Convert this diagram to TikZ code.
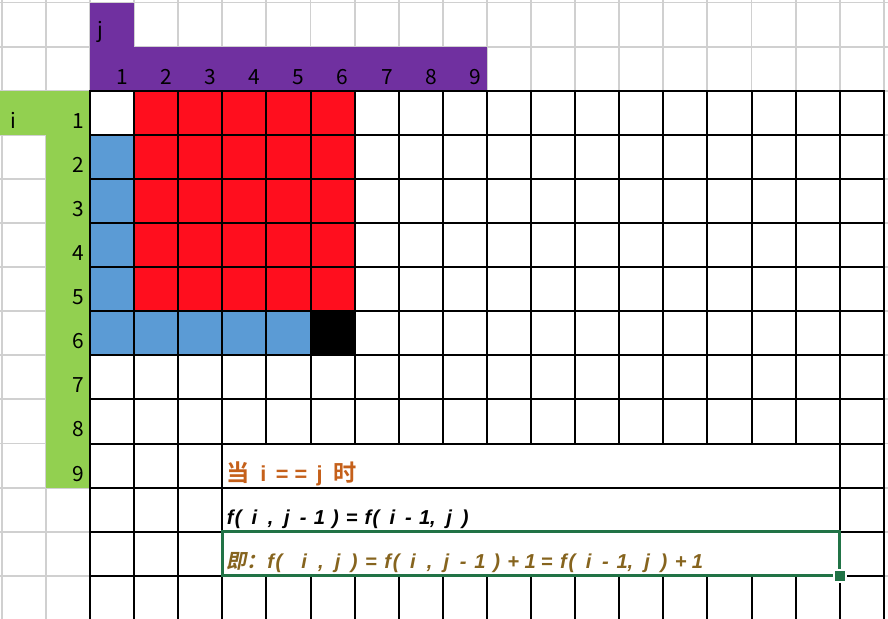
\documentclass[tikz,border=0pt]{standalone}
\usepackage{fontspec}
\setmainfont{Carlito}
\newfontfamily\cjk{Noto Sans CJK SC}
\newfontfamily\cjkb{Noto Sans CJK SC Bold}
\newfontfamily\cjkbi[FakeSlant=0.2]{Noto Sans CJK SC Bold}
\newfontfamily\latb{Liberation Sans Bold}
\newfontfamily\latbi{Liberation Sans Bold Italic}
\definecolor{gridgray}{RGB}{208,208,208}
\definecolor{hpurple}{RGB}{112,48,160}
\definecolor{hgreen}{RGB}{146,208,80}
\definecolor{cred}{RGB}{255,14,30}
\definecolor{cblue}{RGB}{91,155,213}
\definecolor{selgreen}{RGB}{33,115,70}
\definecolor{torange}{RGB}{197,96,26}
\definecolor{tolive}{RGB}{134,100,30}
% half-width (fixed advance) typesetting of Latin characters; ~ stands for a space
\newlength\hwd
\newcommand\hwloop[1]{\ifx#1\relax\else\makebox[\hwd][c]{#1}\expandafter\hwloop\fi}
\newcommand\hw[1]{\hwloop#1\relax}
\tikzset{
  gline/.style={draw=gridgray, line width=1.2pt},
  bline/.style={draw=black, line width=1.3pt, line cap=rect},
  hdr/.style={font=\cjk\fontsize{13.5}{16}\selectfont, inner sep=0pt},
  ftxt/.style={inner sep=0pt, anchor=base west}
}
\begin{document}
\begin{tikzpicture}
\useasboundingbox (-2.041,-11.957) rectangle (18.095,2.057);
\fill[white] (-2.041,-11.957) rectangle (18.095,2.057);
% light spreadsheet grid
\draw[gline] (-2.1,-12.1) grid (18.2,2.2);
% coloured headers
\fill[hpurple] (0,2) rectangle (1,1);
\fill[hpurple] (0,1) rectangle (9,0);
\fill[hgreen] (-2.1,0) rectangle (0,-1);
\fill[hgreen] (-1,-1) rectangle (0,-9);
% main area
\fill[white] (0,0) rectangle (18,-12.1);
\fill[cred] (1,0) rectangle (6,-5);
\fill[cblue] (0,-1) rectangle (1,-6);
\fill[cblue] (1,-5) rectangle (5,-6);
\fill[black] (5,-5) rectangle (6,-6);
% black grid
\foreach \x in {0,1,2,3,17,18} \draw[bline] (\x,0) -- (\x,-12.1);
\foreach \x in {4,...,16} {
  \draw[bline] (\x,0) -- (\x,-8);
  \draw[bline] (\x,-11) -- (\x,-12.1);
}
\foreach \y in {0,...,11} \draw[bline] (0,-\y) -- (18,-\y);
% header labels
\node[hdr, anchor=base west] (jlab) at (0.16,1.2) {j};
\foreach \c in {1,...,9}
  \node[hdr, anchor=base east] (col\c) at (\c-0.13,0.13) {\c};
\node[hdr, anchor=base west] (ilab) at (-1.81,-0.85) {i};
\foreach \r in {1,...,9}
  \node[hdr, anchor=base east] (row\r) at (-0.12,-\r+0.15) {\r};
% texts
\node[ftxt, text=torange] (t1) at (3.08,-8.85)
  {\setlength\hwd{6.05pt}{\cjkb\fontsize{15}{17}\selectfont 当}{\latb\fontsize{14}{16}\selectfont\hw{~i~=~=~j~}}{\cjkb\fontsize{15}{17}\selectfont 时}};
\node[ftxt, text=black] (t2) at (3.08,-9.83)
  {\setlength\hwd{5.23pt}{\latbi\fontsize{13}{15}\selectfont\hw{f(~i~,~j~-~1~)~=~f(~i~-~1,~j~)}}};
\node[ftxt, text=tolive] (t3) at (3.08,-10.83)
  {\setlength\hwd{5.4pt}{\cjkbi\fontsize{13}{15}\selectfont 即：}{\latbi\fontsize{13}{15}\selectfont\hw{f(~~i~,~j~)~=~f(~i~,~j~-~1~)~+~1~=~f(~i~-~1,~j~)~+~1}}};
% selection border
\draw[selgreen, line width=2pt] (3,-10) rectangle (17,-11);
\fill[white] (16.84,-11.16) rectangle (17.16,-10.84);
\fill[selgreen] (16.885,-11.115) rectangle (17.115,-10.885);
\end{tikzpicture}
\end{document}
